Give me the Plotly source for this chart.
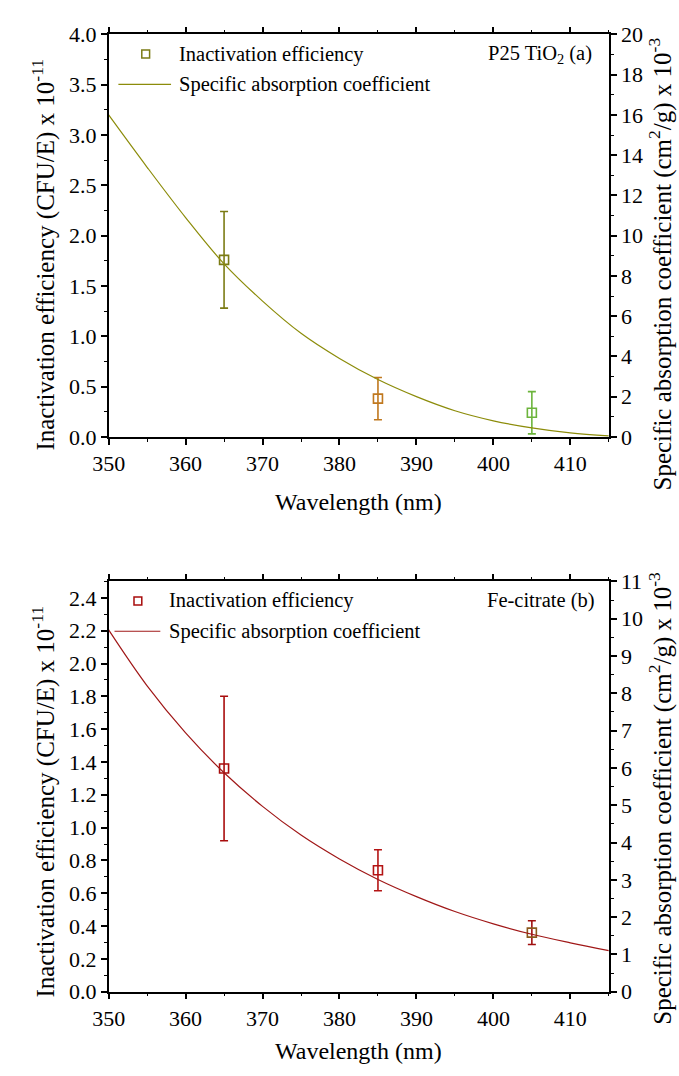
import plotly.graph_objects as go

# ---------------- data ----------------
wl_points = [365, 385, 405]

# Panel (a) P25 TiO2
a_eff = [1.76, 0.38, 0.24]
a_err = [0.48, 0.21, 0.21]
a_colors = ["#7b7b14", "#c0781e", "#6cb43c"]
a_curve_wl = [350, 355, 360, 365, 370, 375, 380, 385, 390, 395, 400, 405, 410, 415]
a_curve = [16.0, 13.4, 10.9, 8.6, 6.75, 5.15, 3.9, 2.85, 2.0, 1.3, 0.8, 0.45, 0.2, 0.05]

# Panel (b) Fe-citrate
b_eff = [1.36, 0.74, 0.36]
b_err = [0.44, 0.125, 0.072]
b_colors = ["#a80c0c", "#b41414", "#8a5a1e"]
b_err_colors = ["#a80c0c", "#b41414", "#a01010"]
b_curve_wl = [350, 355, 360, 365, 370, 375, 380, 385, 390, 395, 400, 405, 410, 415]
b_curve = [9.7, 8.2, 6.94, 5.87, 4.97, 4.2, 3.56, 3.01, 2.55, 2.15, 1.82, 1.54, 1.31, 1.1]

FONT = "Liberation Serif, Times New Roman, serif"
W, H = 679, 1076

fig = go.Figure()

# panel a
for x, y, e, c in zip(wl_points, a_eff, a_err, a_colors):
    fig.add_trace(go.Scatter(
        x=[x], y=[y], mode="markers", xaxis="x", yaxis="y",
        marker=dict(symbol="square-open", size=9, color=c, line=dict(width=1.6, color=c)),
        error_y=dict(type="data", array=[e], color=c, thickness=1.6, width=4),
        showlegend=False))
fig.add_trace(go.Scatter(x=a_curve_wl, y=a_curve, mode="lines", xaxis="x", yaxis="y2",
                         line=dict(color="#8c8c0a", width=1.2, shape="spline"), showlegend=False))

# panel b
for x, y, e, c, ec in zip(wl_points, b_eff, b_err, b_colors, b_err_colors):
    fig.add_trace(go.Scatter(
        x=[x], y=[y], mode="markers", xaxis="x2", yaxis="y3",
        marker=dict(symbol="square-open", size=9, color=c, line=dict(width=1.6, color=c)),
        error_y=dict(type="data", array=[e], color=ec, thickness=1.6, width=4),
        showlegend=False))
fig.add_trace(go.Scatter(x=b_curve_wl, y=b_curve, mode="lines", xaxis="x2", yaxis="y4",
                         line=dict(color="#a01818", width=1.2, shape="spline"), showlegend=False))

xl, xr = 94 / W, 607 / W
ya = [1 - 435 / H, 1 - 23 / H]
yb = [1 - 1003 / H, 1 - 583 / H]

tickfont = dict(family=FONT, size=22, color="black")
common = dict(showline=True, linecolor="black", linewidth=1.5, ticks="outside", ticklen=6,
              tickwidth=1.5, tickcolor="black", showgrid=False, zeroline=False, tickfont=tickfont)
minor_common = dict(ticks="outside", ticklen=3, tickwidth=1.2, tickcolor="black")

def xax(anchor):
    return dict(domain=[xl, xr], anchor=anchor, range=[350, 415], tick0=350, dtick=10,
                mirror="ticks", minor=dict(dtick=5, tick0=350, **minor_common), **common)

fig.update_layout(
    width=W, height=H, margin=dict(l=0, r=0, t=0, b=0),
    plot_bgcolor="white", paper_bgcolor="white",
    font=dict(family=FONT, color="black", size=22),
    xaxis=xax("y"),
    yaxis=dict(domain=ya, anchor="x", range=[0, 4.0], dtick=0.5, tick0=0, tickformat=".1f",
               minor=dict(dtick=0.25, **minor_common), **common),
    yaxis2=dict(domain=ya, anchor="x", overlaying="y", side="right", range=[0, 20], dtick=2, tick0=0,
                minor=dict(dtick=1, **minor_common), **common),
    xaxis2=xax("y3"),
    yaxis3=dict(domain=yb, anchor="x2", range=[0, 2.5], dtick=0.2, tick0=0, tickformat=".1f",
                minor=dict(dtick=0.1, **minor_common), **common),
    yaxis4=dict(domain=yb, anchor="x2", overlaying="y3", side="right", range=[0, 11], dtick=1, tick0=0,
                minor=dict(dtick=0.5, **minor_common), **common),
)

def px(x):
    return x / W
def py(y):
    return 1 - y / H

yfont_l = dict(family=FONT, size=25, color="black")
yfont_r = dict(family=FONT, size=25, color="black")
xfont = dict(family=FONT, size=24, color="black")
lfont = dict(family=FONT, size=20.5, color="black")

ann = [
    dict(x=px(27), y=py(248), text="Inactivation efficiency (CFU/E) x 10<sup>-11</sup>", textangle=-90, font=yfont_l),
    dict(x=px(660), y=py(258), text="Specific absorption coefficient (cm<sup>2</sup>/g) x 10<sup>-3</sup>", textangle=-90, font=yfont_r),
    dict(x=px(350), y=py(502), text="Wavelength (nm)", font=xfont),
    dict(x=px(27), y=py(808), text="Inactivation efficiency (CFU/E) x 10<sup>-11</sup>", textangle=-90, font=yfont_l),
    dict(x=px(660), y=py(805), text="Specific absorption coefficient (cm<sup>2</sup>/g) x 10<sup>-3</sup>", textangle=-90, font=yfont_r),
    dict(x=px(350), y=py(1064), text="Wavelength (nm)", font=xfont),
    dict(x=px(164), y=py(43), text="Inactivation efficiency", xanchor="left", font=lfont),
    dict(x=px(164), y=py(74), text="Specific absorption coefficient", xanchor="left", font=lfont),
    dict(x=px(592), y=py(43), text="P25 TiO<sub>2</sub> (a)", xanchor="right", font=lfont),
    dict(x=px(154), y=py(603), text="Inactivation efficiency", xanchor="left", font=lfont),
    dict(x=px(154), y=py(634), text="Specific absorption coefficient", xanchor="left", font=lfont),
    dict(x=px(595), y=py(603), text="Fe-citrate (b)", xanchor="right", font=lfont),
]
for a in ann:
    a.setdefault("xanchor", "center")
    a.update(xref="paper", yref="paper", showarrow=False, yanchor="middle")
fig.update_layout(annotations=ann)

shapes = [
    dict(type="rect", xref="paper", yref="paper", x0=px(128), x1=px(136), y0=py(47), y1=py(39),
         line=dict(color="#7b7b14", width=1.5), fillcolor="white"),
    dict(type="line", xref="paper", yref="paper", x0=px(104), x1=px(158), y0=py(74), y1=py(74),
         line=dict(color="#8c8c0a", width=1.2)),
    dict(type="rect", xref="paper", yref="paper", x0=px(120), x1=px(128), y0=py(607), y1=py(599),
         line=dict(color="#a80c0c", width=1.5), fillcolor="white"),
    dict(type="line", xref="paper", yref="paper", x0=px(100), x1=px(147), y0=py(634), y1=py(634),
         line=dict(color="#a01818", width=1.2)),
]
fig.update_layout(shapes=shapes)

fig.write_html("out.html")
